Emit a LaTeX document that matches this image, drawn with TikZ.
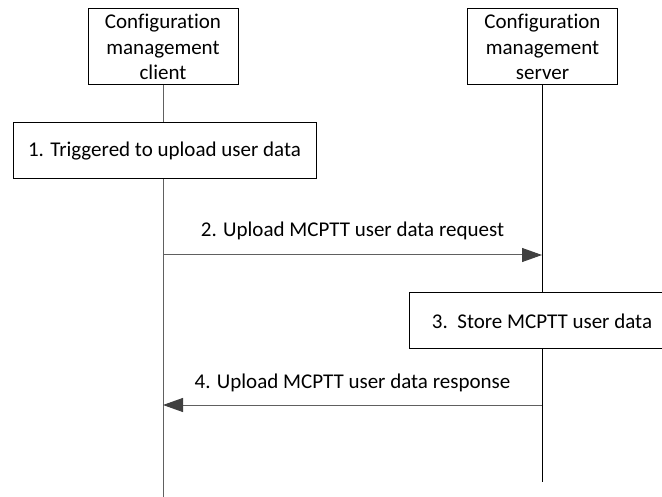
\documentclass[tikz,border=0pt]{standalone}
\usepackage{fontspec}
\setmainfont[Ligatures=NoCommon]{Carlito}
\usetikzlibrary{arrows.meta}
\definecolor{linegray}{HTML}{606060}
\definecolor{headgray}{HTML}{404040}
\begin{document}
\begin{tikzpicture}[x=1pt,y=-1pt,
  every node/.style={font=\fontsize{21}{25.5}\selectfont},
  entity/.style={draw=black, line width=1pt, align=center, minimum width=150pt, minimum height=76pt, inner sep=0pt},
  actbox/.style={draw=black, line width=1pt, inner sep=0pt, minimum height=56pt},
  lifeblack/.style={draw=black, line width=1pt},
  lifegray/.style={draw=linegray, line width=1pt},
  msg/.style={draw=linegray, line width=1pt, -{Triangle[length=20pt,width=14pt,fill=headgray,color=headgray]}},
  lbl/.style={inner sep=0pt}
]
\clip (0,0) rectangle (662,497);
\fill[white] (0,0) rectangle (662,497);

\node[entity] (client) at (163,47) {Configuration\\management\\client};
\node[entity] (server) at (542.5,47) {Configuration\\management\\server};

\node[actbox, minimum width=303pt] (s1) at (164.5,151) {1. Triggered to upload user data};
\node[actbox, minimum width=266pt] (s3) at (542,321) {3.\ \ Store MCPTT user data};

\coordinate (cl) at (163,0);
\coordinate (sl) at (542,0);
\coordinate (cend) at (163,499);
\coordinate (send) at (542,482);

% lifelines
\draw[lifegray] (client.south -| cl) -- (s1.north -| cl);
\draw[lifegray] (s1.south -| cl) -- (cend);
\draw[lifeblack] (server.south -| sl) -- (s3.north -| sl);
\draw[lifeblack] (s3.south -| sl) -- (send);

% messages
\coordinate (m2a) at (163,255);
\coordinate (m2b) at (542,255);
\coordinate (m4a) at (542,405);
\coordinate (m4b) at (163,405);
\draw[msg] (m2a) -- (m2b);
\draw[msg] (m4a) -- (m4b);
\node[lbl] (l2) at (352.5,231) {2. Upload MCPTT user data request};
\node[lbl] (l4) at (352.5,383) {4. Upload MCPTT user data response};
\end{tikzpicture}
\end{document}
